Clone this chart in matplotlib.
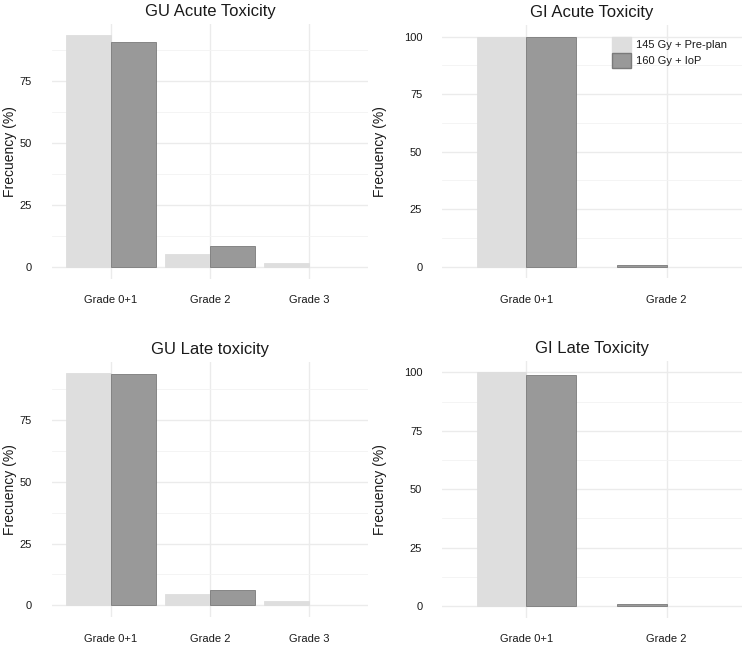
import numpy as np
import matplotlib
matplotlib.use('Agg')
import matplotlib.pyplot as plt
from matplotlib.ticker import MultipleLocator

plt.rcParams['font.family'] = ['Liberation Sans', 'DejaVu Sans']

series_names = ['145 Gy + Pre-plan', '160 Gy + IoP']
gu_grades = ['Grade 0+1', 'Grade 2', 'Grade 3']
gi_grades = ['Grade 0+1', 'Grade 2']

# NaN = no bar at that grade
gu_acute_pre = [93.5, 5.1, 1.5]
gu_acute_iop = [90.9, 8.6, np.nan]
gi_acute_pre = [100.0, np.nan]
gi_acute_iop = [99.6, 0.6]
gu_late_pre = [94.0, 4.5, 1.7]
gu_late_iop = [93.8, 6.3, np.nan]
gi_late_pre = [100.0, np.nan]
gi_late_iop = [98.9, 1.0]

light = '#dedede'
dark = '#999999'
grid_col = '#ebebeb'
text_col = '#1a1a1a'

W, H = 742, 647
fig = plt.figure(figsize=(W/100, H/100), dpi=100)

def px_axes(l, r, t, b):
    return fig.add_axes([l/W, (H-b)/H, (r-l)/W, (b-t)/H])

def panel(ax, title, grades, pre, iop, barw, xmax, ymax, lab_x):
    n = len(grades)
    x = np.arange(n)
    for i in range(n):
        vals = [(pre[i], light, light), (iop[i], dark, '#7a7a7a')]
        present = [v for v in vals if not np.isnan(v[0])]
        # position_dodge(preserve="single"): bars fill slots from the left
        for k, (v, fc, ec) in enumerate(present):
            ax.bar(x[i] - barw/2 + k*barw, v, width=barw, color=fc,
                   edgecolor=ec, linewidth=0.6, zorder=3)
    ax.set_xlim(-0.6, xmax)
    ax.set_ylim(-0.05*ymax, ymax*1.05)
    ax.set_xticks(x)
    ax.set_xticklabels(grades)
    ax.yaxis.set_major_locator(MultipleLocator(25))
    ax.yaxis.set_minor_locator(MultipleLocator(12.5))
    ax.grid(True, which='major', color=grid_col, linewidth=1.0, zorder=0)
    ax.grid(True, which='minor', axis='y', color='#f3f3f3', linewidth=0.6, zorder=0)
    for s in ax.spines.values():
        s.set_visible(False)
    ax.tick_params(axis='both', which='both', length=0, labelsize=8,
                   labelcolor=text_col)
    ax.tick_params(axis='x', pad=12)
    ax.tick_params(axis='y', pad=14)
    ax.set_ylabel('Frecuency (%)', fontsize=10, color=text_col, va='center')
    ax.yaxis.set_label_coords(lab_x, 0.5)
    ax.set_title(title, fontsize=12, color=text_col, pad=5.5)

ax1 = px_axes(51.6, 368.4, 23.5, 278.7)
panel(ax1, 'GU Acute Toxicity', gu_grades, gu_acute_pre, gu_acute_iop,
      0.45, 2.6, np.nanmax(gu_acute_pre), -41.6/316.8)

ax2 = px_axes(441.7, 742, 25, 278.3)
panel(ax2, 'GI Acute Toxicity', gi_grades, gi_acute_pre, gi_acute_iop,
      0.352, 1.535, 100, -61.7/300.3)

ax3 = px_axes(51.6, 368.4, 361.5, 616.9)
panel(ax3, 'GU Late toxicity', gu_grades, gu_late_pre, gu_late_iop,
      0.45, 2.6, np.nanmax(gu_late_pre), -41.6/316.8)

ax4 = px_axes(441.7, 742, 360.7, 617.7)
panel(ax4, 'GI Late Toxicity', gi_grades, gi_late_pre, gi_late_iop,
      0.352, 1.535, 100, -61.7/300.3)

handles = [plt.Rectangle((0, 0), 1, 1, facecolor=light, edgecolor=light),
           plt.Rectangle((0, 0), 1, 1, facecolor=dark, edgecolor='#7a7a7a')]
ax2.legend(handles, series_names, loc='upper left',
           bbox_to_anchor=((612.3-441.7)/300.3, 1-(36.7-25)/253.3),
           frameon=False, fontsize=8, borderpad=0, borderaxespad=0,
           handlelength=1.7, handleheight=1.7, handletextpad=0.4,
           labelspacing=0.1, labelcolor=text_col)

fig.savefig('out.png', dpi=100)
